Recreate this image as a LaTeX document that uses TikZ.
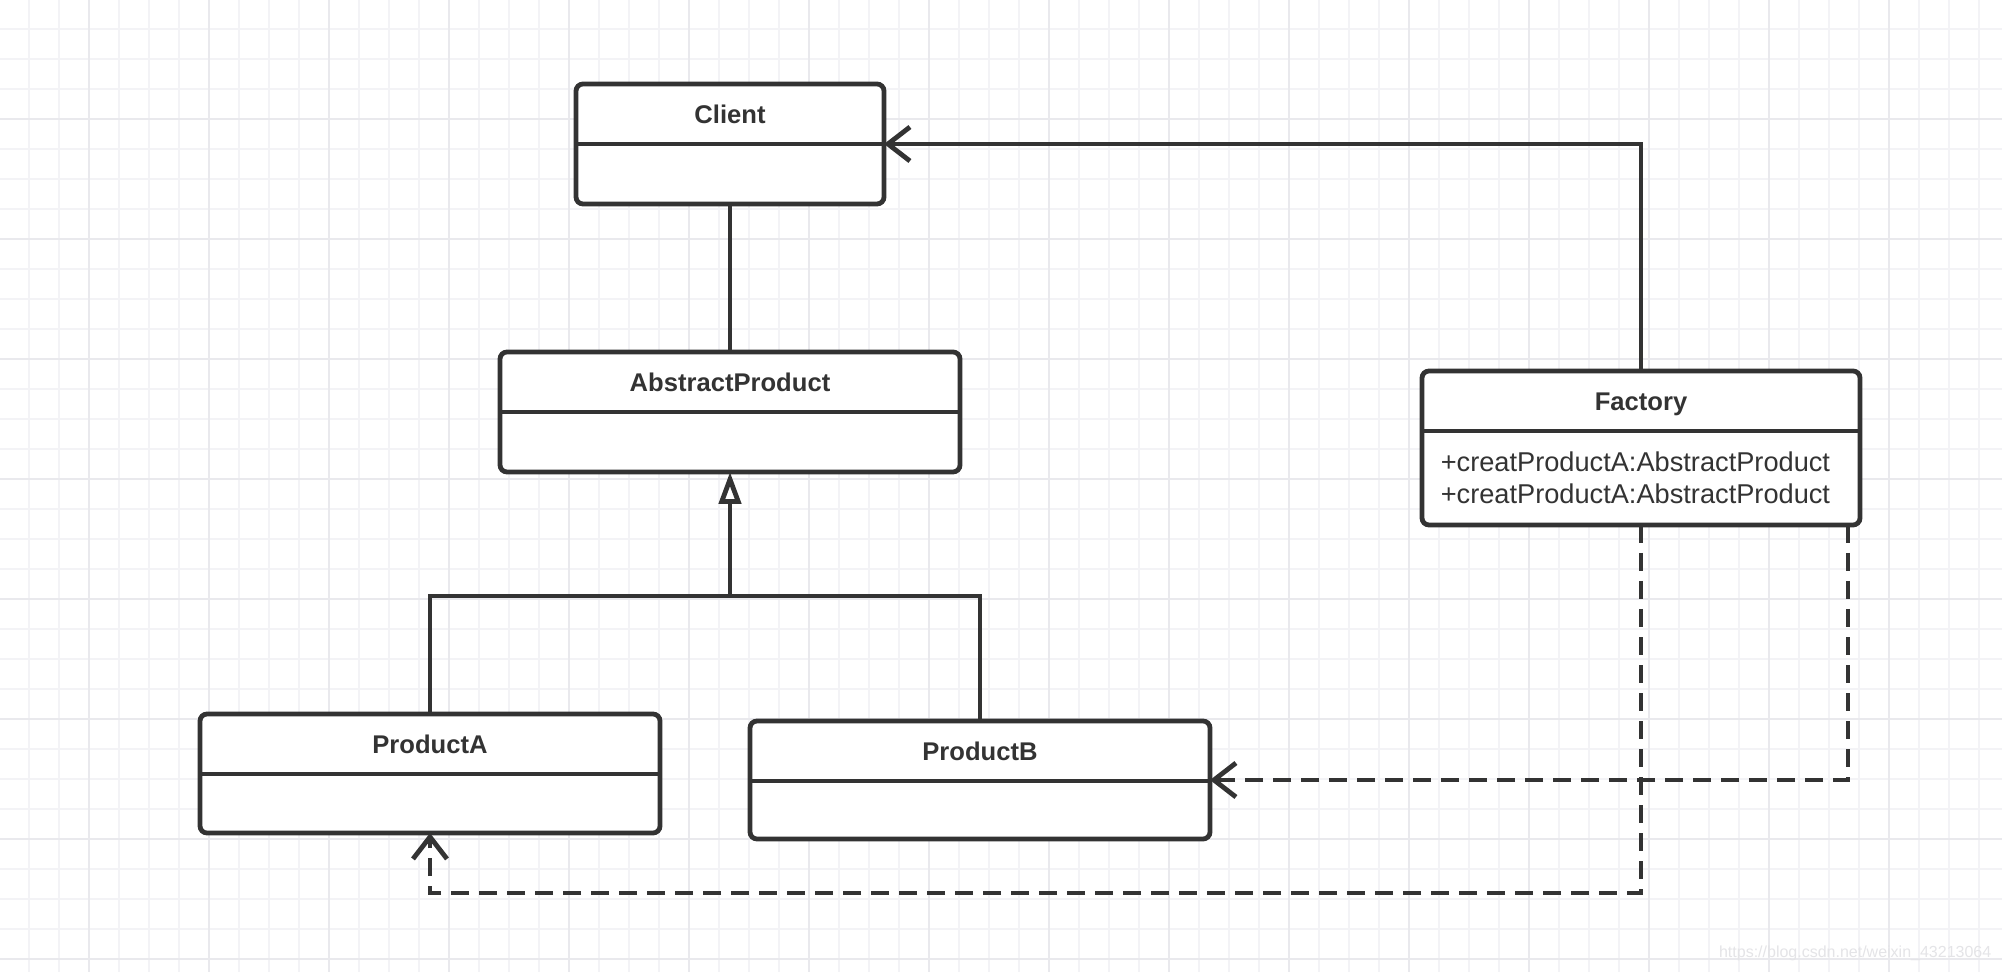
\documentclass[tikz,border=0pt]{standalone}
\usepackage{fontspec}
\setmainfont{Liberation Sans}
\usetikzlibrary{arrows.meta}

\tikzset{every picture/.style={line width=0.75pt}}
\tikzset{
    gridminor/.style={draw={rgb, 255:red, 243; green, 243; blue, 246 }, line width=0.9pt},
    gridmajor/.style={draw={rgb, 255:red, 233; green, 233; blue, 237 }, line width=1.3pt},
    classbox/.style={draw={rgb, 255:red, 51; green, 51; blue, 51 }, fill=white, line width=2.4pt, rounded corners=3.5pt, inner sep=0pt, outer sep=0pt},
    classname/.style={font=\bfseries\fontsize{12.8}{15}\selectfont, color={rgb, 255:red, 51; green, 51; blue, 51 }, text height=9.2pt, text depth=0pt, inner sep=0pt},
    method/.style={font=\fontsize{13.6}{16}\selectfont, color={rgb, 255:red, 51; green, 51; blue, 51 }, inner sep=0pt},
    classline/.style={draw={rgb, 255:red, 51; green, 51; blue, 51 }, line width=2.4pt},
    assoc/.style={classline, -{Straight Barb[length=11pt, width=17pt]}},
    inherit/.style={classline, -{Triangle[fill=white, length=16pt, width=11pt]}},
    dep/.style={classline, dash pattern=on 9pt off 5pt, -{Straight Barb[length=11pt, width=17pt]}}
}

\begin{document}
\begin{tikzpicture}[x=0.5pt,y=0.5pt,yscale=-1,xscale=1]
        \useasboundingbox (0,0) rectangle (2002,972);
        \fill[white] (0,0) rectangle (2002,972);

        % Grid
        \foreach \gx in {29,59,...,1979} \draw[gridminor] (\gx,0) -- (\gx,972);
        \foreach \gy in {29,59,...,959} \draw[gridminor] (0,\gy) -- (2002,\gy);
        \foreach \gx in {89,209,...,1969} \draw[gridmajor] (\gx,0) -- (\gx,972);
        \foreach \gy in {119,239,...,959} \draw[gridmajor] (0,\gy) -- (2002,\gy);

        % Classes
        \node[classbox, minimum width=154pt, minimum height=60pt] (client) at (730,144) {};
        \node[classname] (clientname) at ([yshift=15pt]client.north) {Client};
        \draw[classline] ([yshift=30pt]client.north west) -- ([yshift=30pt]client.north east);

        \node[classbox, minimum width=230pt, minimum height=60pt] (ap) at (730,412) {};
        \node[classname] (apname) at ([yshift=15pt]ap.north) {AbstractProduct};
        \draw[classline] ([yshift=30pt]ap.north west) -- ([yshift=30pt]ap.north east);

        \node[classbox, minimum width=230pt, minimum height=59.5pt] (pa) at (430,773.5) {};
        \node[classname] (paname) at ([yshift=15pt]pa.north) {ProductA};
        \draw[classline] ([yshift=30pt]pa.north west) -- ([yshift=30pt]pa.north east);

        \node[classbox, minimum width=230pt, minimum height=59pt] (pb) at (980,780) {};
        \node[classname] (pbname) at ([yshift=15pt]pb.north) {ProductB};
        \draw[classline] ([yshift=30pt]pb.north west) -- ([yshift=30pt]pb.north east);

        \node[classbox, minimum width=219pt, minimum height=77pt] (factory) at (1641,448) {};
        \node[classname] (factoryname) at ([yshift=15pt]factory.north) {Factory};
        \draw[classline] ([yshift=30pt]factory.north west) -- ([yshift=30pt]factory.north east);
        \node[method, anchor=base west] (createa) at (1440,472) {+creatProductA:AbstractProduct};
        \node[method, anchor=base west] (createb) at (1440,504) {+creatProductA:AbstractProduct};

        % Links
        \draw[classline] (client.south) -- (ap.north);
        \draw[assoc] (factory.north) |- (client.east);

        \coordinate (joint) at (730,596);
        \draw[inherit] (pa.north) |- (joint) -- (ap.south);
        \draw[classline] (pb.north) |- (joint);

        \coordinate (bendA) at (430,893);
        \draw[dep] (factory.south) |- (bendA) -- (pa.south);
        \draw[dep] ([xshift=-6pt]factory.south east) |- (pb.east);

        % Watermark
        \node[font=\fontsize{8}{10}\selectfont, color={rgb, 255:red, 228; green, 228; blue, 231 }, anchor=east, inner sep=0pt] (watermark) at (1992,953) {https://blog.csdn.net/weixin\_43213064};

\end{tikzpicture}
\end{document}
